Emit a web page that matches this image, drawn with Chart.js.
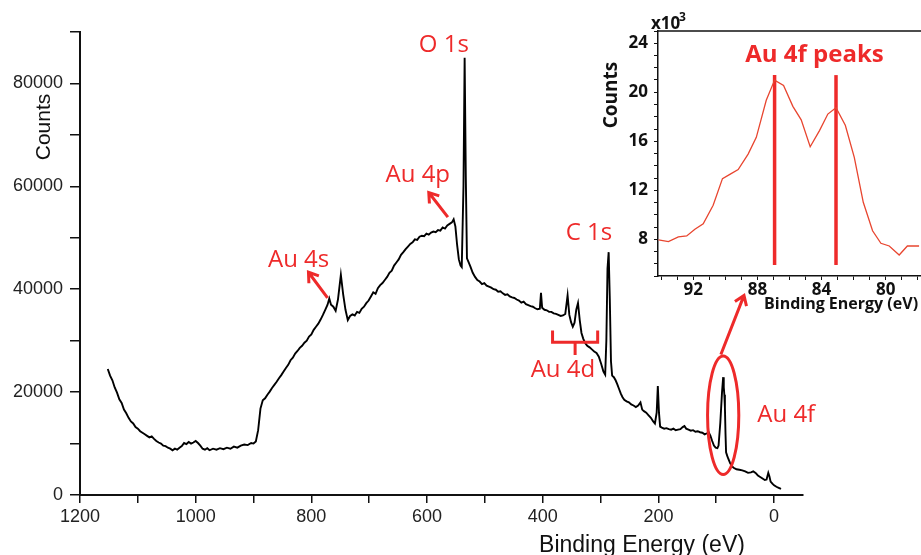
<!DOCTYPE html>
<html>
<head>
<meta charset="utf-8">
<script src="https://cdn.jsdelivr.net/npm/chart.js@4.4.0/dist/chart.umd.min.js"></script>
<style>
    html, body { margin: 0; padding: 0; background: #fff; overflow: hidden; }
    #wrap { position: relative; width: 921px; height: 555px; }
    #mainChart { position: absolute; left: 0; top: 0; }
    #insetChart { position: absolute; left: 590px; top: 0; }
</style>
</head>
<body>
<div id="wrap">
    <canvas id="mainChart" width="921" height="555"></canvas>
    <canvas id="insetChart" width="331" height="320"></canvas>
</div>
<script>
// Survey spectrum: binding energy (eV) and counts
const energy = [
    1152, 1148, 1144, 1140, 1136, 1132, 1128, 1124, 1120, 1116, 1112, 1108, 1104, 1100,
    1096, 1092, 1088, 1084, 1080, 1076, 1072, 1068, 1064, 1060, 1056, 1052, 1048, 1044,
    1040, 1036, 1032, 1028, 1024, 1020, 1016, 1012, 1008, 1004, 1000, 996, 992, 988,
    984, 980, 976, 970, 964, 958, 952, 946, 940, 934, 928, 922, 916, 910, 904, 900,
    896, 892, 888, 884, 880, 876, 872, 868, 864, 860, 856, 852, 848, 844, 840, 836,
    832, 828, 824, 820, 816, 812, 808, 804, 800, 796, 792, 788, 784, 780, 776, 772,
    769, 766, 762, 758, 754, 749, 745, 741, 737, 733, 729, 725, 721, 717, 713, 709,
    705, 701, 697, 693, 689, 685, 681, 677, 673, 669, 665, 661, 657, 653, 649, 645,
    641, 637, 633, 629, 625, 621, 617, 613, 609, 605, 601, 597, 593, 589, 585, 581,
    577, 573, 569, 565, 561, 557, 554, 551, 548, 545, 542, 540, 537, 535, 533, 531,
    528, 525, 521, 517, 513, 509, 505, 501, 497, 493, 489, 485, 481, 477, 473, 469,
    465, 461, 457, 453, 449, 445, 441, 437, 433, 429, 425, 421, 417, 413, 409, 405,
    403, 401, 397, 393, 389, 385, 381, 377, 373, 369, 365, 361, 357, 354, 351, 348,
    345, 342, 339, 336, 333, 330, 327, 323, 319, 315, 311, 307, 303, 299, 295, 292,
    290, 288, 286, 284, 282, 280, 277, 274, 271, 268, 265, 262, 259, 255, 251, 247,
    243, 239, 235, 231, 228, 225, 221, 217, 213, 209, 206, 203, 201, 199, 197, 194,
    190, 186, 182, 178, 174, 170, 166, 162, 158, 155, 152, 148, 144, 140, 136, 132,
    128, 124, 120, 116, 113, 110, 107, 104, 101, 98, 96, 93, 90, 88, 87, 86,
    85, 84, 83, 81, 79, 76, 73, 70, 65, 60, 55, 50, 45, 40, 36, 32,
    28, 24, 20, 16, 13, 10, 8, 6, 3, 0, -4, -8, -12
];
const counts = [
    24500, 23200, 22300, 20900, 19900, 18600, 17900, 16600, 15900, 15000, 14300, 13900, 13200, 12900,
    12400, 12100, 11800, 11500, 11200, 11400, 10900, 10500, 10200, 10000, 9600, 9500, 9200, 9000,
    8700, 9000, 8800, 9200, 9500, 10100, 9900, 10300, 10000, 10200, 10500, 10100, 9600, 9000,
    8800, 9100, 8700, 9000, 8800, 9100, 8900, 9200, 9000, 9400, 9200, 9600, 9800, 9700, 10100, 10000,
    10400, 12600, 16800, 18400, 18800, 19500, 20100, 20800, 21400, 22000, 22700, 23300, 24000, 24700, 25300, 26200,
    26700, 27500, 28000, 28600, 29000, 29600, 30000, 30800, 31200, 32100, 32700, 33300, 34100, 35000, 36000, 37000,
    38200, 37000, 36600, 35800, 38000, 42800, 39000, 36000, 34000, 34800, 35100, 34900, 35600, 35400, 36200, 36600,
    37300, 37800, 38600, 39400, 39100, 40200, 40800, 41200, 41800, 42400, 43200, 43600, 44600, 45200, 45800, 46700,
    47200, 47800, 48300, 48800, 49100, 49700, 49600, 50200, 50400, 50300, 50800, 50600, 51000, 51200, 51100, 51500,
    51400, 52000, 51800, 52400, 52700, 53000, 53600, 52200, 48600, 45800, 44600, 44300, 60000, 85000, 62000, 46000,
    45200, 44400, 43200, 42400, 41800, 41500, 41000, 41200, 40700, 40500, 40300, 40000, 39900, 39500, 39600, 39200,
    38900, 39000, 38600, 38400, 38300, 38000, 37800, 37400, 37600, 37100, 36900, 36700, 36600, 36300, 36100, 36200,
    39300, 36400, 36000, 35900, 35600, 35600, 35300, 35200, 35000, 34800, 34900, 35200, 38800, 35000, 33600, 32700,
    33500, 36000, 37300, 34000, 31500, 30400, 29600, 29000, 28700, 28300, 27900, 27600, 26900, 25500, 24000, 23400,
    30000, 44000, 47200, 38000, 26000, 23200, 22900, 22300, 21500, 20600, 19700, 19000, 18500, 18200, 18000, 17600,
    17400, 17100, 17400, 18000, 16600, 16300, 16000, 15500, 15000, 14300, 13900, 16000, 21200, 16000, 13300, 13100,
    12900, 13000, 12800, 12700, 12900, 12600, 12700, 12800, 13200, 13400, 12900, 12700, 12500, 12600, 12300, 12400,
    12200, 12100, 11800, 12000, 12200, 11500, 10500, 9600, 9200, 9100, 9600, 14000, 20000, 22900, 21000, 19500,
    17000, 12000, 8300, 7600, 7000, 6200, 5600, 5300, 5000, 4900, 4800, 4600, 4300, 4400, 4600, 4300,
    3800, 3500, 3200, 2900, 3000, 4300, 3600, 2600, 2200, 1900, 1600, 1400, 1200
];
const xTicks = [1200, 1100, 1000, 900, 800, 700, 600, 500, 400, 300, 200, 100, 0];

// Inset: Au 4f region, counts in thousands
const insetEnergy = [
    94.17, 93.55, 92.93, 92.41, 91.90, 91.38, 90.76, 90.18, 89.72, 89.20, 88.58, 88.07, 87.45, 86.93, 86.37,
    85.79, 85.27, 84.71, 84.13, 83.61, 83.10, 82.52, 81.96, 81.40, 80.82, 80.30, 79.78, 79.16, 78.65, 77.92
];
const insetCounts = [
    7.95, 7.81, 8.19, 8.27, 8.82, 9.26, 10.77, 12.95, 13.30, 13.69, 14.95, 16.32, 19.35, 20.99, 20.55,
    18.85, 17.75, 15.55, 16.87, 18.22, 18.74, 17.31, 14.68, 11.02, 8.69, 7.67, 7.45, 6.71, 7.45, 7.45
];
const peakPositions = [86.93, 83.10];
const peakLineRange = [5.9, 21.4];

const RED = '#ee2a2a';

// Labels on the survey, in data coordinates
const labels = [
    { text: 'O 1s', x: 571, y: 87400 },
    { text: 'Au 4p', x: 616, y: 62100 },
    { text: 'Au 4s', x: 822, y: 45600 },
    { text: 'C 1s', x: 320, y: 50900 },
    { text: 'Au 4d', x: 365, y: 24300 },
    { text: 'Au 4f', x: -21, y: 15500 }
];
const arrows = [
    { from: [564, 54000], to: [597, 58800] },
    { from: [772, 38300], to: [805, 43300] },
    { from: [92, 27300], to: [52, 38800] }
];
const bracket = { left: 383, right: 305, mid: 344, y: 29700, top: 32000, stem: 27200 };
const ellipse = { left: 115, right: 61, top: 27000, bottom: 4000 };

function drawArrow(ctx, x1, y1, x2, y2, head) {
    const a = Math.atan2(y2 - y1, x2 - x1);
    ctx.beginPath();
    ctx.moveTo(x1, y1);
    ctx.lineTo(x2, y2);
    ctx.moveTo(x2 - head * Math.cos(a - 0.6), y2 - head * Math.sin(a - 0.6));
    ctx.lineTo(x2, y2);
    ctx.lineTo(x2 - head * Math.cos(a + 0.6), y2 - head * Math.sin(a + 0.6));
    ctx.stroke();
}

const surveyNotes = {
    id: 'surveyNotes',
    afterDraw(chart) {
        const ctx = chart.ctx;
        const xs = chart.scales.x, ys = chart.scales.y;
        ctx.save();
        // axis titles
        ctx.fillStyle = '#111';
        ctx.font = '23px "Liberation Sans", Arial, sans-serif';
        ctx.textAlign = 'center';
        ctx.textBaseline = 'alphabetic';
        ctx.fillText('Binding Energy (eV)', 642, 552);
        ctx.translate(50, 127);
        ctx.rotate(-Math.PI / 2);
        ctx.font = '21px "Liberation Sans", Arial, sans-serif';
        ctx.fillText('Counts', 0, 0);
        ctx.restore();

        ctx.save();
        ctx.fillStyle = RED;
        ctx.strokeStyle = RED;
        ctx.font = '24px "Open Sans", sans-serif';
        ctx.textAlign = 'center';
        ctx.textBaseline = 'middle';
        labels.forEach(l => ctx.fillText(l.text, xs.getPixelForValue(l.x), ys.getPixelForValue(l.y)));

        ctx.lineWidth = 3;
        ctx.lineCap = 'butt';
        arrows.forEach(a => drawArrow(ctx,
            xs.getPixelForValue(a.from[0]), ys.getPixelForValue(a.from[1]),
            xs.getPixelForValue(a.to[0]), ys.getPixelForValue(a.to[1]), 11));

        // bracket under Au 4d
        const bl = xs.getPixelForValue(bracket.left), br = xs.getPixelForValue(bracket.right);
        const bm = xs.getPixelForValue(bracket.mid), by = ys.getPixelForValue(bracket.y);
        ctx.beginPath();
        ctx.moveTo(bl, ys.getPixelForValue(bracket.top));
        ctx.lineTo(bl, by);
        ctx.lineTo(br, by);
        ctx.lineTo(br, ys.getPixelForValue(bracket.top));
        ctx.moveTo(bm, by);
        ctx.lineTo(bm, ys.getPixelForValue(bracket.stem));
        ctx.stroke();

        // ellipse round the Au 4f peak
        const el = xs.getPixelForValue(ellipse.left), er = xs.getPixelForValue(ellipse.right);
        const et = ys.getPixelForValue(ellipse.top), eb = ys.getPixelForValue(ellipse.bottom);
        ctx.beginPath();
        ctx.ellipse((el + er) / 2, (et + eb) / 2, (er - el) / 2, (eb - et) / 2, 0, 0, Math.PI * 2);
        ctx.stroke();
        ctx.restore();
    }
};

const axisFont = { family: '"Liberation Sans", Arial, sans-serif', size: 18 };

new Chart(document.getElementById('mainChart'), {
    type: 'scatter',
    data: {
        datasets: [{
            data: energy.map((e, i) => ({ x: e, y: counts[i] })),
            showLine: true,
            borderColor: '#000',
            borderWidth: 1.9,
            pointRadius: 0,
            tension: 0
        }]
    },
    options: {
        responsive: false,
        animation: false,
        layout: { padding: { top: 32, right: 118, left: 0, bottom: 0 } },
        plugins: { legend: { display: false }, tooltip: { enabled: false } },
        scales: {
            x: {
                type: 'linear',
                reverse: true,
                min: -50,
                max: 1200,
                afterBuildTicks: axis => { axis.ticks = xTicks.map(v => ({ value: v })); },
                afterFit: axis => { axis.height = 60; },
                ticks: {
                    autoSkip: false,
                    maxRotation: 0,
                    padding: 3,
                    color: '#222',
                    font: axisFont,
                    callback: v => (v % 200 === 0 ? String(v) : '')
                },
                grid: { drawOnChartArea: false, drawTicks: true, tickLength: 8, color: '#111', lineWidth: 1.5 },
                border: { display: true, color: '#111', width: 2 }
            },
            y: {
                min: 0,
                max: 90000,
                afterFit: axis => { axis.width = 80; },
                ticks: {
                    stepSize: 10000,
                    padding: 7,
                    color: '#222',
                    font: axisFont,
                    callback: v => (v % 20000 === 0 ? String(v) : '')
                },
                grid: { drawOnChartArea: false, drawTicks: true, tickLength: 10, color: '#111', lineWidth: 1.5 },
                border: { display: true, color: '#111', width: 2 }
            }
        }
    },
    plugins: [surveyNotes]
});

const insetNotes = {
    id: 'insetNotes',
    afterDraw(chart) {
        const ctx = chart.ctx;
        const area = chart.chartArea;
        const xs = chart.scales.x, ys = chart.scales.y;
        ctx.save();
        // top frame line
        ctx.strokeStyle = '#111';
        ctx.lineWidth = 1.5;
        ctx.beginPath();
        ctx.moveTo(area.left, area.top);
        ctx.lineTo(area.right, area.top);
        ctx.stroke();

        ctx.fillStyle = '#111';
        ctx.textBaseline = 'alphabetic';
        ctx.textAlign = 'left';
        ctx.font = 'bold 17px "Open Sans", sans-serif';
        ctx.fillText('x10', 61, 29);
        ctx.font = 'bold 12px "Open Sans", sans-serif';
        ctx.fillText('3', 89, 21);

        ctx.font = 'bold 16px "Open Sans", sans-serif';
        ctx.fillText('Binding Energy (eV)', 174, 309);

        ctx.save();
        ctx.translate(27, 95);
        ctx.rotate(-Math.PI / 2);
        ctx.textAlign = 'center';
        ctx.font = 'bold 19px "Open Sans", sans-serif';
        ctx.fillText('Counts', 0, 0);
        ctx.restore();

        ctx.fillStyle = RED;
        ctx.textAlign = 'center';
        ctx.textBaseline = 'middle';
        ctx.font = 'bold 24px "Open Sans", sans-serif';
        ctx.fillText('Au 4f peaks', xs.getPixelForValue(84.44), ys.getPixelForValue(23.05));
        ctx.restore();
    }
};

const insetFont = { family: '"Open Sans", sans-serif', size: 17, weight: 'bold' };

new Chart(document.getElementById('insetChart'), {
    type: 'scatter',
    data: {
        datasets: [
            {
                data: insetEnergy.map((e, i) => ({ x: e, y: insetCounts[i] })),
                showLine: true,
                borderColor: '#e8452f',
                borderWidth: 1.3,
                pointRadius: 0,
                tension: 0
            },
            ...peakPositions.map(p => ({
                data: peakLineRange.map(v => ({ x: p, y: v })),
                showLine: true,
                borderColor: RED,
                borderWidth: 3.5,
                pointRadius: 0
            }))
        ]
    },
    options: {
        responsive: false,
        animation: false,
        layout: { padding: { top: 31, right: 0, left: 0, bottom: 0 } },
        plugins: { legend: { display: false }, tooltip: { enabled: false } },
        scales: {
            x: {
                type: 'linear',
                reverse: true,
                min: 77.8,
                max: 94.2,
                afterBuildTicks: axis => {
                    const t = [];
                    for (let v = 78; v <= 94; v++) t.push({ value: v });
                    axis.ticks = t;
                },
                afterFit: axis => { axis.height = 44; },
                ticks: {
                    autoSkip: false,
                    maxRotation: 0,
                    padding: 0,
                    color: '#111',
                    font: insetFont,
                    callback: v => (v % 4 === 0 ? String(v) : '')
                },
                grid: { drawOnChartArea: false, drawTicks: true, tickLength: 4, color: '#111', lineWidth: 1 },
                border: { display: true, color: '#111', width: 1.5 }
            },
            y: {
                min: 5,
                max: 25,
                afterFit: axis => { axis.width = 68; },
                ticks: {
                    stepSize: 1,
                    autoSkip: false,
                    padding: 6,
                    color: '#111',
                    font: insetFont,
                    callback: v => (v % 4 === 0 ? String(v) : '')
                },
                grid: { drawOnChartArea: false, drawTicks: true, tickLength: 4, color: '#111', lineWidth: 1 },
                border: { display: true, color: '#111', width: 1.5 }
            }
        }
    },
    plugins: [insetNotes]
});
</script>
</body>
</html>
